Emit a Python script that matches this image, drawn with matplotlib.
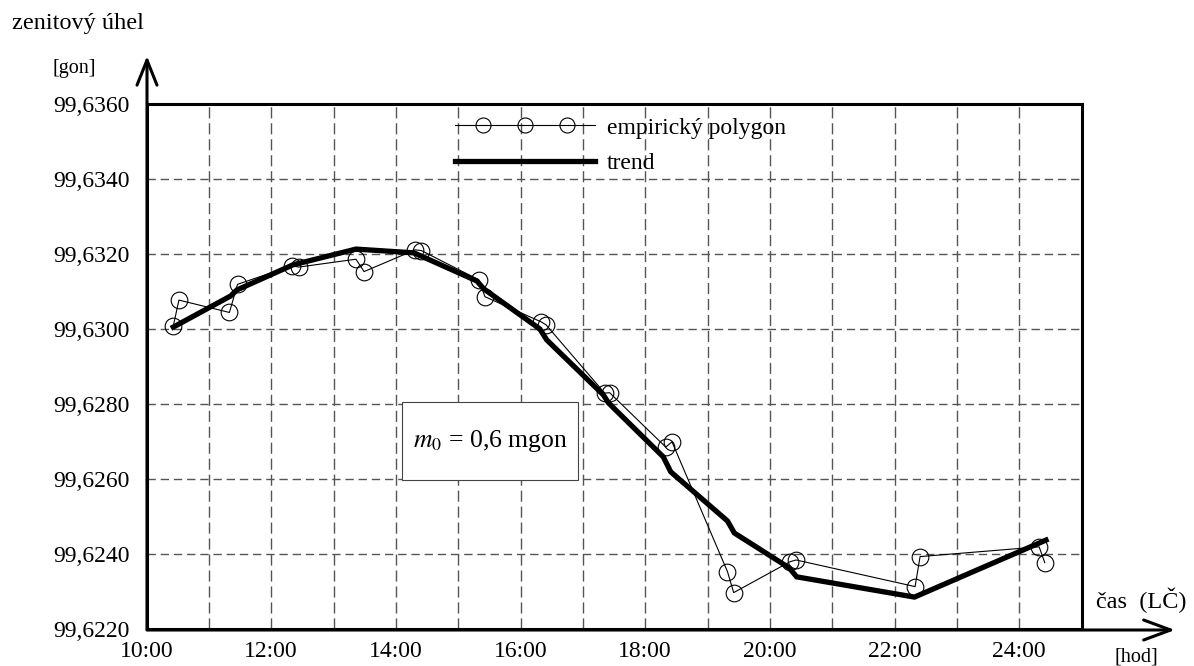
import matplotlib
matplotlib.use("Agg")
import numpy as np
import matplotlib.pyplot as plt
from matplotlib.legend_handler import HandlerLine2D
from matplotlib.lines import Line2D
from matplotlib.patches import Rectangle

plt.rcParams['font.family'] = ['Liberation Serif', 'DejaVu Serif']
plt.rcParams['mathtext.fontset'] = 'stix'

# empirical polygon (time in hours, zenith angle in gon)
emp_hours = [10.43, 10.52, 11.33, 11.46, 12.34, 12.44, 13.36, 13.49, 14.31, 14.41,
             15.33, 15.43, 16.33, 16.41, 17.35, 17.43, 18.33, 18.43, 19.32, 19.42,
             20.32, 20.42, 22.33, 22.41, 24.32, 24.41]
emp_angle = [99.63008, 99.63077, 99.63044, 99.63119, 99.63169, 99.63165, 99.63186, 99.63153,
             99.63211, 99.63209, 99.63131, 99.63086, 99.63019, 99.63011, 99.62829, 99.62830,
             99.62685, 99.62699, 99.62353, 99.62297, 99.62379, 99.62384, 99.62313, 99.62393,
             99.62419, 99.62377]

# trend
trend_hours = [10.43, 11.35, 11.45, 12.35, 13.36, 14.29, 15.30, 15.41, 16.31, 16.42,
               17.33, 17.41, 18.29, 18.41, 19.32, 19.43, 20.31, 20.43, 22.32, 24.43]
trend_angle = [99.63005, 99.63088, 99.63104, 99.63171, 99.63213, 99.63203, 99.63128, 99.63107,
               99.63000, 99.62971, 99.62824, 99.62803, 99.62659, 99.62619, 99.62488, 99.62456,
               99.62363, 99.62339, 99.62285, 99.62437]

grid_hours = list(range(10, 26))
label_hours = [10, 12, 14, 16, 18, 20, 22, 24]
y_ticks = [99.622, 99.624, 99.626, 99.628, 99.630, 99.632, 99.634, 99.636]


class PolygonHandler(HandlerLine2D):
    # full-length line with three circles inside it
    def create_artists(self, legend, orig_handle, xdescent, ydescent, width, height,
                       fontsize, trans):
        y = (height - ydescent) / 2
        line = Line2D([-xdescent, width - xdescent], [y, y])
        self.update_prop(line, orig_handle, legend)
        line.set_marker('None')
        mk = Line2D(np.array([0.2, 0.5, 0.8]) * width - xdescent, [y, y, y])
        self.update_prop(mk, orig_handle, legend)
        mk.set_linestyle('None')
        mk.set_markersize(orig_handle.get_markersize() * 0.9)
        line.set_transform(trans)
        mk.set_transform(trans)
        return [line, mk]


fig = plt.figure(figsize=(11.94, 6.66), dpi=100)
ax = fig.add_axes([0.1227, 0.0556, 0.7831, 0.7883])

ax.set_xlim(10, 25)
ax.set_ylim(99.622, 99.636)
ax.set_xticks(grid_hours)
ax.set_xticklabels([f"{h}:00" if h in label_hours else "" for h in grid_hours])
ax.set_yticks(y_ticks)
ax.set_yticklabels([f"{v:.4f}".replace(".", ",") for v in y_ticks])
ax.tick_params(axis='both', length=0, labelsize=17)
ax.tick_params(axis='y', pad=12)
ax.tick_params(axis='x', pad=9)
ax.xaxis.grid(True, color='#555555', linestyle=(0, (8, 3.5)), linewidth=1.0)
ax.yaxis.grid(True, color='#555555', linestyle=(0, (6, 3.5)), linewidth=1.0)
for s in ax.spines.values():
    s.set_linewidth(2.2)

poly, = ax.plot(emp_hours, emp_angle, color='black', lw=0.8, marker='o', ms=12,
                mfc='none', mec='black', mew=0.8, label='empirický polygon', zorder=2.5)
ax.plot(trend_hours, trend_angle, color='black', lw=3.8, label='trend', zorder=3,
        solid_joinstyle='miter')

ax.legend(loc='upper left', bbox_to_anchor=(0.33, 0.975), frameon=False, fontsize=17,
          handlelength=5.93, handletextpad=0.5, labelspacing=0.6, borderpad=0,
          borderaxespad=0, handler_map={poly: PolygonHandler()})

ax.add_patch(Rectangle((0.2733, 0.2838), 0.1882, 0.1486, transform=ax.transAxes,
                       facecolor='white', edgecolor='#444444', lw=0.8, zorder=4))
ax.text(0.3674, 0.3581, r"$m_0$ = 0,6 mgon", transform=ax.transAxes, fontsize=18.5,
        ha='center', va='center', zorder=5)

# axis arrows
ax.annotate('', xy=(147, 666 - 56), xytext=(147, 666 - 629), xycoords='figure pixels',
            textcoords='figure pixels',
            arrowprops=dict(arrowstyle='->,head_length=0.9,head_width=0.36', lw=2.2,
                            color='black', shrinkA=0, shrinkB=0, mutation_scale=20))
ax.annotate('', xy=(1175, 666 - 630), xytext=(147, 666 - 630), xycoords='figure pixels',
            textcoords='figure pixels',
            arrowprops=dict(arrowstyle='->,head_length=0.97,head_width=0.36', lw=2.2,
                            color='black', shrinkA=0, shrinkB=0, mutation_scale=20))

fig.text(12 / 1194, 1 - 23 / 666, "zenitový úhel", fontsize=17.5, ha='left', va='center')
fig.text(52 / 1194, 1 - 68 / 666, "[gon]", fontsize=14.5, ha='left', va='center')
fig.text(1096 / 1194, 1 - 600 / 666, "čas  (LČ)", fontsize=17.5, ha='left', va='center')
fig.text(1115 / 1194, 1 - 657 / 666, "[hod]", fontsize=14.5, ha='left', va='center')

fig.savefig("out.png", dpi=100)
